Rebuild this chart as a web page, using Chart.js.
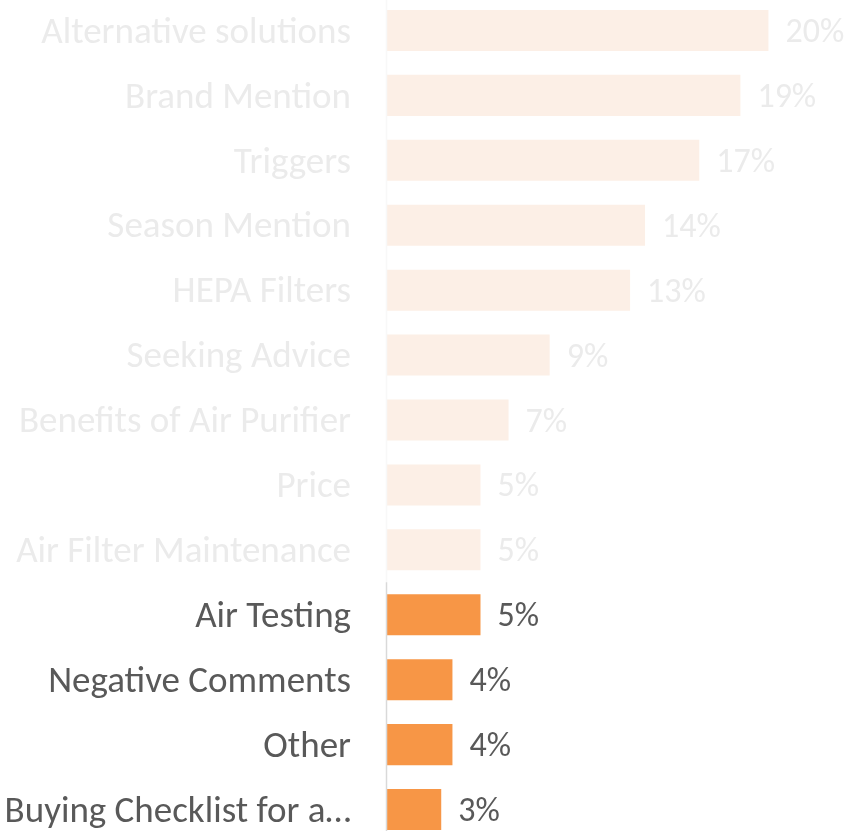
<!DOCTYPE html>
<html>
<head>
<meta charset="utf-8">
<script src="https://cdn.jsdelivr.net/npm/chart.js@4.4.1/dist/chart.umd.min.js"></script>
<style>
    html, body { margin: 0; padding: 0; background: #ffffff; overflow: hidden; }
    #wrap { position: absolute; left: 0; top: -2px; width: 844px; height: 844px; }
</style>
</head>
<body>
<div id="wrap"><canvas id="topics-chart"></canvas></div>
<script>
const categories = [
    'Alternative solutions', 'Brand Mention', 'Triggers', 'Season Mention',
    'HEPA Filters', 'Seeking Advice', 'Benefits of Air Purifier', 'Price',
    'Air Filter Maintenance', 'Air Testing', 'Negative Comments', 'Other',
    'Buying Checklist for a…'
];
const shares = [20.4, 18.9, 16.7, 13.8, 13.0, 8.7, 6.5, 5.0, 5.0, 5.0, 3.5, 3.5, 2.9];
const highlighted = ['Air Testing', 'Negative Comments', 'Other', 'Buying Checklist for a…'];

const colors = {
    bar: '#f79646',
    barFaded: '#fcefe6',
    text: '#595959',
    textFaded: '#ebebeb',
    axis: '#d9d9d9',
    axisFaded: '#f8f8f8'
};
const fontFamily = 'Carlito, Lato, sans-serif';

const isHot = i => highlighted.includes(categories[i]);

// value labels next to each bar
const valueLabels = {
    id: 'valueLabels',
    afterDatasetsDraw(chart) {
        const ctx = chart.ctx;
        const meta = chart.getDatasetMeta(0);
        ctx.save();
        ctx.font = `34px ${fontFamily}`;
        ctx.textAlign = 'left';
        ctx.textBaseline = 'middle';
        meta.data.forEach((bar, i) => {
            ctx.fillStyle = isHot(i) ? colors.text : colors.textFaded;
            ctx.fillText(Math.round(shares[i]) + '%', bar.x + 17, bar.y + 3);
        });
        ctx.restore();
    }
};

// category axis line, faded above the highlighted rows
const axisLine = {
    id: 'axisLine',
    afterDatasetsDraw(chart) {
        const ctx = chart.ctx;
        const y = chart.scales.y;
        const x = chart.chartArea.left - 0.5;
        const firstHot = categories.findIndex((c, i) => isHot(i));
        const split = (y.getPixelForValue(firstHot - 1) + y.getPixelForValue(firstHot)) / 2;
        ctx.save();
        ctx.lineWidth = 1.5;
        ctx.strokeStyle = colors.axisFaded;
        ctx.beginPath();
        ctx.moveTo(x, 0);
        ctx.lineTo(x, split);
        ctx.stroke();
        ctx.strokeStyle = colors.axis;
        ctx.beginPath();
        ctx.moveTo(x, split);
        ctx.lineTo(x, chart.height);
        ctx.stroke();
        ctx.restore();
    }
};

new Chart(document.getElementById('topics-chart').getContext('2d'), {
    type: 'bar',
    data: {
        labels: categories,
        datasets: [{
            data: shares,
            backgroundColor: shares.map((v, i) => isHot(i) ? colors.bar : colors.barFaded),
            borderWidth: 0,
            barPercentage: 0.632,
            categoryPercentage: 1
        }]
    },
    options: {
        indexAxis: 'y',
        responsive: true,
        maintainAspectRatio: false,
        animation: false,
        layout: { padding: 0 },
        scales: {
            x: {
                display: false,
                min: 0,
                max: 24.44
            },
            y: {
                afterFit: scale => {
                    scale.width = 387;
                    scale.paddingTop = 0;
                    scale.paddingBottom = 0;
                },
                grid: { display: false, drawTicks: false },
                border: { display: false },
                ticks: {
                    padding: 36,
                    labelOffset: 3,
                    autoSkip: false,
                    font: { family: fontFamily, size: 37 },
                    color: ctx => isHot(ctx.index) ? colors.text : colors.textFaded
                }
            }
        },
        plugins: {
            legend: { display: false },
            tooltip: { enabled: false }
        }
    },
    plugins: [valueLabels, axisLine]
});
</script>
</body>
</html>
